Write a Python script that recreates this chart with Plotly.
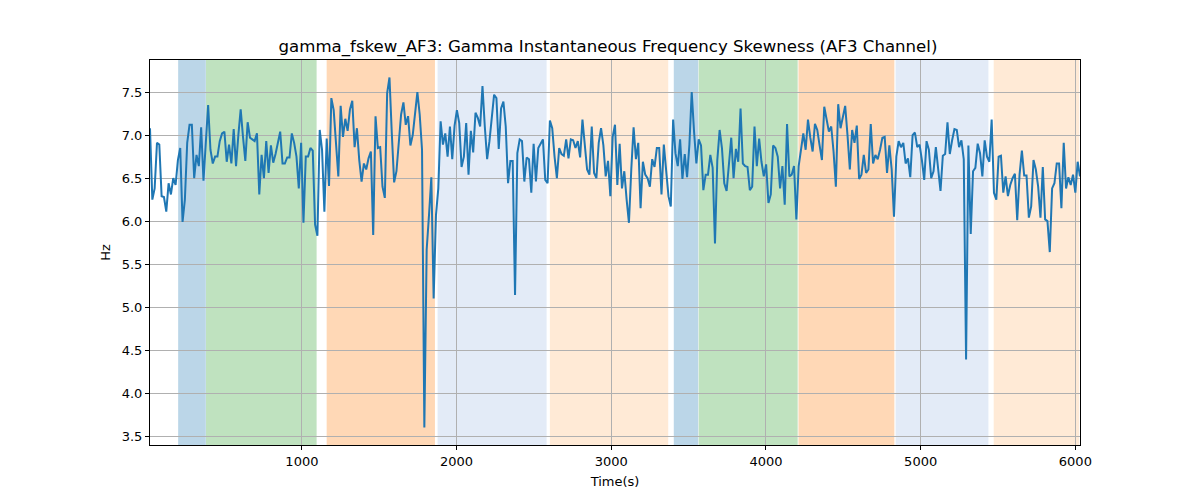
import plotly.graph_objects as go

title = "gamma_fskew_AF3: Gamma Instantaneous Frequency Skewness (AF3 Channel)"
t_start = 18.0
t_step = 15.03

vals_a = [7.08, 6.25, 6.38, 6.91, 6.89, 6.29, 6.28, 6.11, 6.44, 6.31, 6.50, 6.42, 6.71, 6.85, 5.99, 6.25,
          6.91, 7.12, 7.12, 6.50, 6.77, 6.64, 7.09, 6.47, 6.91, 7.35, 6.83, 6.67, 6.75, 6.75, 6.93, 7.02,
          7.04, 6.69, 6.89, 6.67, 7.07, 6.64, 7.00, 7.30, 6.98, 6.70, 7.15, 6.97, 6.95, 6.93, 7.02, 6.31,
          6.77, 6.50, 6.93, 6.56, 6.88, 6.68, 6.78, 6.91, 7.04, 6.67, 6.67, 6.74, 6.74, 7.02, 6.91, 6.75,
          6.38, 6.91, 5.98]
vals_b = [6.75, 6.75, 6.85, 6.82, 5.96, 5.83, 7.06, 6.83, 6.11, 6.96, 6.41, 7.43, 7.29, 6.93, 6.52, 7.34,
          6.98, 7.19, 7.05, 7.30, 7.40, 6.86, 7.08, 6.71, 6.46, 6.67, 6.60, 6.73, 6.81, 5.84, 7.22, 6.85,
          6.86, 6.40, 6.27, 7.49, 7.67, 7.02, 6.45, 6.58, 6.93, 7.24, 7.38, 7.12, 7.22, 6.88, 7.00, 7.28,
          7.50, 7.24, 6.83, 3.60, 5.67, 6.07, 6.51, 5.10, 6.07, 6.38, 7.16, 6.89, 7.02, 6.75, 7.10, 6.72,
          7.11, 7.29]
vals_c = [7.14, 6.63, 6.75, 7.14, 6.54, 7.05, 6.80, 7.26, 7.20, 7.10, 7.57, 7.10, 6.72, 6.93, 7.22, 7.47,
          7.43, 6.84, 7.31, 7.39, 7.10, 6.44, 6.70, 6.70, 5.14, 6.79, 6.95, 6.93, 6.46, 6.74, 6.72, 6.33,
          6.90, 6.46, 6.85, 6.91, 6.95, 6.48, 6.44, 7.17, 7.08, 6.75, 6.50, 6.85, 6.78, 6.76, 6.95, 6.73,
          6.95, 6.94, 6.85, 6.93, 6.74, 7.18, 6.89, 6.60, 6.54, 7.10, 6.56, 6.50, 6.91, 7.08, 6.88, 6.52,
          6.70, 6.29, 6.98]
vals_d = [7.12, 6.42, 6.90, 6.38, 6.58, 6.25, 5.98, 6.60, 7.09, 6.72, 6.91, 6.15, 6.69, 6.54, 6.50, 6.40,
          6.72, 6.63, 6.85, 6.85, 6.31, 6.89, 6.60, 6.29, 6.17, 7.18, 6.79, 6.64, 6.95, 6.49, 6.78, 6.51,
          6.89, 7.50, 7.04, 6.67, 6.95, 6.88, 6.36, 6.54, 6.54, 6.77, 6.62, 5.74, 6.71, 7.06, 6.85, 6.44,
          6.35, 6.67, 6.97, 6.50, 6.84, 6.69, 7.31, 6.67, 6.64, 6.63, 6.36, 6.40, 7.10, 6.64, 6.96, 6.69,
          6.52, 6.66, 6.21]
vals_e = [6.31, 6.88, 6.85, 6.75, 6.38, 6.64, 6.19, 7.13, 6.52, 6.54, 6.64, 6.02, 6.64, 6.83, 7.02, 6.83,
          7.18, 6.97, 6.81, 7.13, 7.06, 6.88, 6.71, 7.33, 7.20, 7.04, 7.10, 6.81, 6.40, 7.36, 7.08, 7.20,
          7.34, 7.00, 6.60, 7.06, 6.91, 7.11, 6.49, 6.54, 6.77, 6.56, 6.60, 7.13, 6.67, 6.77, 6.72, 6.83,
          6.97, 6.98, 6.56, 6.88, 6.60, 6.05, 6.75, 6.93, 6.86, 6.91, 6.67, 6.73, 6.51, 7.00, 7.03, 6.86,
          6.89, 6.71, 6.48]
vals_f = [6.93, 6.83, 6.50, 6.58, 6.86, 6.62, 6.35, 6.76, 6.78, 7.15, 6.78, 6.94, 7.07, 7.06, 6.86, 6.94,
          6.72, 4.39, 6.88, 5.85, 6.58, 6.62, 6.90, 6.79, 6.52, 6.94, 6.75, 6.69, 7.18, 6.33, 6.25, 6.75,
          6.76, 6.33, 6.52, 6.29, 6.42, 6.50, 6.55, 6.01, 6.54, 6.82, 6.53, 6.53, 6.04, 6.17, 6.71, 6.60,
          6.40, 6.04, 6.63, 6.02, 6.00, 5.64, 6.38, 6.44, 6.67, 6.67, 6.15, 6.91, 6.38, 6.51, 6.42, 6.54,
          6.33, 6.69, 6.52]

values = vals_a + vals_b + vals_c + vals_d + vals_e + vals_f
times = [t_start + i * t_step for i in range(len(values))]

band_starts = [200, 380, 1160, 1877, 2603, 3404, 3565, 4210, 4838, 5472]
band_ends = [379, 1095, 1860, 2582, 3368, 3562, 4205, 4830, 5438, 6025]
band_colors = ["rgba(31,119,180,0.3)", "rgba(44,160,44,0.3)", "rgba(255,127,14,0.3)",
               "rgba(174,199,232,0.35)", "rgba(255,187,120,0.3)",
               "rgba(31,119,180,0.3)", "rgba(44,160,44,0.3)", "rgba(255,127,14,0.3)",
               "rgba(174,199,232,0.35)", "rgba(255,187,120,0.3)"]

fig = go.Figure()
fig.add_trace(go.Scatter(x=times, y=values, mode="lines",
                         line=dict(color="#1f77b4", width=2), showlegend=False))

for s, e, c in zip(band_starts, band_ends, band_colors):
    fig.add_shape(type="rect", xref="x", yref="paper", x0=s, x1=e, y0=0, y1=1,
                  fillcolor=c, line=dict(width=0), layer="below")

ymin, ymax = min(values), max(values)
pad = (ymax - ymin) * 0.05

axis_common = dict(showline=True, linecolor="black", linewidth=1, mirror=True,
                   ticks="outside", ticklen=4, tickcolor="black",
                   showgrid=True, gridcolor="#b0b0b0", gridwidth=1, zeroline=False,
                   tickfont=dict(size=13, color="black"))

fig.update_layout(
    width=1200, height=500,
    paper_bgcolor="white", plot_bgcolor="white",
    margin=dict(l=142, r=128, t=52, b=63),
    font=dict(family="DejaVu Sans", color="black"),
    title=dict(text=title, x=0.5, xanchor="center", y=0.924, yanchor="middle",
               font=dict(size=16.6, color="black")),
    xaxis=dict(range=[times[0], times[-1]], tickvals=[1000, 2000, 3000, 4000, 5000, 6000],
               title=dict(text="Time(s)", font=dict(size=13), standoff=9), **axis_common),
    yaxis=dict(range=[ymin - pad, ymax + pad], dtick=0.5, tick0=3.5, tickformat=".1f",
               title=dict(text="Hz", font=dict(size=13), standoff=8), **axis_common),
)

fig.write_html("out.html")
